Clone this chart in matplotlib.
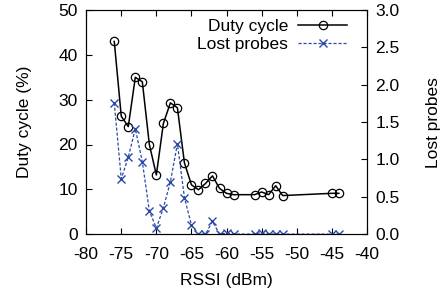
import matplotlib
matplotlib.use("Agg")
import matplotlib.pyplot as plt

plt.rcParams['font.family'] = ['Liberation Sans', 'DejaVu Sans']
plt.rcParams['axes.unicode_minus'] = False

# RSSI (dBm) of each measurement
rssi = [-76, -75, -74, -73, -72, -71, -70, -69, -68, -67, -66, -65, -64,
        -63, -62, -61, -60, -59, -56, -55, -54, -53, -52, -45, -44]
# duty cycle (%)
duty = [43.0, 26.3, 24.0, 35.0, 34.0, 20.0, 13.2, 24.7, 29.3, 28.2, 15.9,
        11.0, 9.9, 11.3, 13.0, 10.2, 9.1, 8.8, 8.8, 9.4, 8.8, 10.8, 8.6, 9.1, 9.1]
# lost probes
lost = [1.76, 0.74, 1.03, 1.41, 0.97, 0.31, 0.08, 0.35, 0.70, 1.21, 0.49,
        0.12, 0.0, 0.0, 0.17, 0.0, 0.01, 0.0, 0.0, 0.02, 0.0, 0.0, 0.0, 0.0, 0.0]

fs = 12.5

fig = plt.figure(figsize=(4.42, 2.89), dpi=100)
ax = fig.add_axes([0.195, 0.19, 0.635, 0.775])
ax2 = ax.twinx()

l1, = ax.plot(rssi, duty, color='black', lw=1.1, marker='o', ms=6,
              mfc='none', mew=0.9, label='Duty cycle')
l2, = ax2.plot(rssi, lost, color='#2b4aa8', lw=0.9, ls=(0, (2.5, 1.5)),
               marker='x', ms=5.5, mew=1.0, label='Lost probes')

ax.set_xlim(-80, -40)
ax.set_ylim(0, 50)
ax2.set_ylim(0, 3.0)
ax.set_xticks(range(-80, -39, 5))
ax.set_yticks(range(0, 51, 10))
ax2.set_yticks([0, 0.5, 1.0, 1.5, 2.0, 2.5, 3.0])
ax2.set_yticklabels(['0.0', '0.5', '1.0', '1.5', '2.0', '2.5', '3.0'])

ax.tick_params(direction='in', labelsize=fs, top=True, right=False, length=4)
ax.tick_params(axis='x', pad=9)
ax.tick_params(axis='y', pad=6)
ax2.tick_params(direction='in', labelsize=fs, length=4, pad=6)

ax.set_xlabel('RSSI (dBm)', fontsize=fs, labelpad=8)
ax.set_ylabel('Duty cycle (%)', fontsize=fs, labelpad=19)
ax2.set_ylabel('Lost probes', fontsize=fs, labelpad=19)

leg = ax.legend(handles=[l1, l2], loc='upper right', bbox_to_anchor=(0.929, 0.96),
                frameon=False, markerfirst=False, fontsize=fs, handlelength=2.8,
                borderaxespad=0, borderpad=0, labelspacing=0.15,
                handletextpad=0.6)
for t in leg.get_texts():
    t.set_ha('right')

fig.savefig('out.png', dpi=100)
